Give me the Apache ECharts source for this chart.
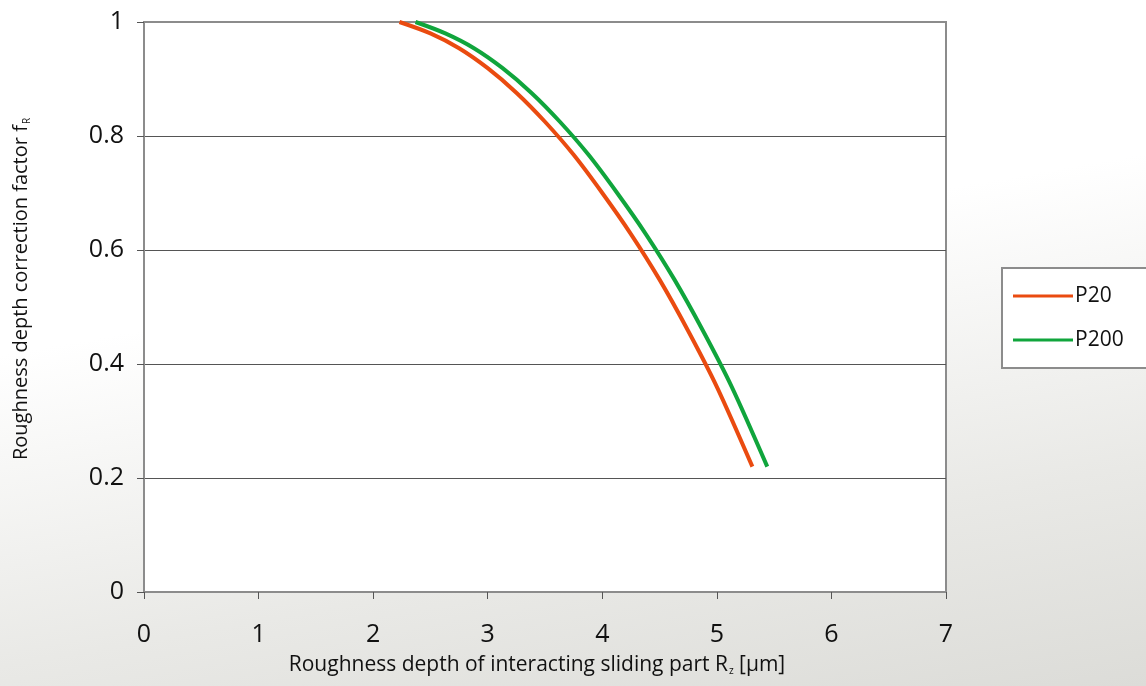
<!DOCTYPE html>
<html>
<head>
<meta charset="utf-8">
<script src="https://cdn.jsdelivr.net/npm/echarts@6/dist/echarts.min.js"></script>
<style>
html,body{margin:0;padding:0;}
body{width:1146px;height:686px;background:linear-gradient(170deg,#ffffff 0%,#ffffff 40%,#e9e9e6 75%,#dcdcd8 100%);}
#c{width:1146px;height:686px;}
</style>
</head>
<body>
<div id="c"></div>
<script>
var seriesNames = ['P20', 'P200'];
var p20 = [[2.23,1.000],[2.50,0.980],[2.75,0.954],[3.00,0.919],[3.25,0.876],[3.50,0.825],[3.75,0.767],[4.00,0.700],[4.25,0.628],[4.50,0.548],[4.75,0.458],[5.00,0.360],[5.31,0.220]];
var p200 = [[2.37,1.000],[2.63,0.980],[2.88,0.954],[3.13,0.919],[3.38,0.876],[3.63,0.825],[3.88,0.767],[4.13,0.700],[4.38,0.628],[4.63,0.548],[4.88,0.458],[5.13,0.360],[5.44,0.220]];
var xTicks = [0,1,2,3,4,5,6,7];
var yTicks = [0,0.2,0.4,0.6,0.8,1];

var chart = echarts.init(document.getElementById('c'), null, {renderer:'canvas'});
var font = '"Open Sans", "Noto Sans", sans-serif';
var subStyle = {fontSize:10, verticalAlign:'bottom', padding:[12,0,0,1], fontFamily:font, color:'#111'};
chart.setOption({
  backgroundColor: 'transparent',
  animation: false,
  textStyle: {fontFamily: font},
  grid: {left:144, top:22, right:200, bottom:94, show:true, backgroundColor:'#ffffff', borderColor:'#8c8c8c', borderWidth:2},
  legend: {
    orient:'vertical', left:1002, top:268,
    data: seriesNames,
    icon:'rect',
    itemWidth:60, itemHeight:3, itemGap:20,
    padding:[16,30,16,11],
    borderColor:'#8c8c8c', borderWidth:2, backgroundColor:'#ffffff',
    textStyle:{fontSize:21, lineHeight:24, color:'#111', fontFamily:font, padding:[0,0,0,-3]}
  },
  xAxis: {
    type:'value', min:xTicks[0], max:xTicks[xTicks.length-1], interval:1,
    name:'Roughness depth of interacting sliding part R{sub|z} [µm]',
    nameLocation:'middle', nameGap:62,
    nameTextStyle:{fontSize:21, color:'#111', fontFamily:font, padding:[0,16,0,0], rich:{sub:subStyle}},
    axisLine:{show:true, onZero:false, lineStyle:{color:'#8c8c8c', width:2}},
    axisTick:{show:true, length:7, lineStyle:{color:'#555', width:1}},
    axisLabel:{fontSize:25, color:'#111', margin:30, fontFamily:font},
    splitLine:{show:false}
  },
  yAxis: {
    type:'value', min:yTicks[0], max:yTicks[yTicks.length-1], interval:0.2,
    name:'Roughness depth correction factor f{sub|R}',
    nameLocation:'middle', nameGap:112, nameRotate:90,
    nameTextStyle:{fontSize:20, color:'#111', fontFamily:font, padding:[0,0,0,36], rich:{sub:subStyle}},
    axisLine:{show:true, onZero:false, lineStyle:{color:'#8c8c8c', width:2}},
    axisTick:{show:true, length:7, lineStyle:{color:'#555', width:1}},
    axisLabel:{fontSize:25, color:'#111', margin:20, fontFamily:font, formatter:function(v){return String(Math.round(v*10)/10);}},
    splitLine:{show:true, lineStyle:{color:['#8c8c8c','#555','#555','#555','#555','#8c8c8c'], width:1}}
  },
  series: [
    {name:seriesNames[0], type:'line', data:p20, smooth:0.3, symbol:'none', lineStyle:{color:'#ea4b10', width:4}, itemStyle:{color:'#ea4b10'}, z:3},
    {name:seriesNames[1], type:'line', data:p200, smooth:0.3, symbol:'none', lineStyle:{color:'#10a53c', width:4}, itemStyle:{color:'#10a53c'}, z:3}
  ]
});
</script>
</body>
</html>
